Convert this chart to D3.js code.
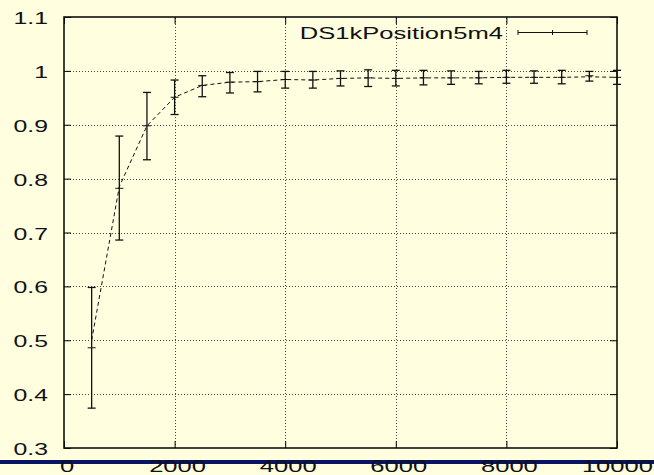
<!DOCTYPE html>
<html>
<head>
<meta charset="utf-8">
<script src="https://cdn.jsdelivr.net/npm/d3@7"></script>
<style>
    body { margin: 0; background: #ffffe0; }
    svg { display: block; }
</style>
</head>
<body>
<div id="chart"></div>
<script>
// data
var xValues = [500, 1000, 1500, 2000, 2500, 3000, 3500, 4000, 4500, 5000,
               5500, 6000, 6500, 7000, 7500, 8000, 8500, 9000, 9500, 10000];
var meanValues = [0.486, 0.782, 0.898, 0.951, 0.973, 0.979, 0.980, 0.984, 0.983, 0.986,
                  0.987, 0.986, 0.987, 0.987, 0.987, 0.988, 0.988, 0.988, 0.991, 0.988];
var upperValues = [0.598, 0.879, 0.960, 0.983, 0.991, 0.997, 0.999, 0.999, 0.999, 1.000,
                   1.002, 1.001, 1.001, 1.000, 0.999, 1.001, 1.000, 1.001, 0.999, 1.001];
var lowerValues = [0.374, 0.686, 0.835, 0.919, 0.952, 0.959, 0.961, 0.968, 0.968, 0.972,
                   0.971, 0.972, 0.974, 0.975, 0.976, 0.977, 0.977, 0.976, 0.981, 0.975];
// dashed line (starts a bit above the first marker)
var lineValues = [0.500, 0.785, 0.898, 0.951, 0.973, 0.979, 0.980, 0.984, 0.983, 0.986,
                  0.987, 0.986, 0.987, 0.987, 0.987, 0.988, 0.988, 0.988, 0.989, 0.988];
var xTicks = [0, 2000, 4000, 6000, 8000, 10000];
var xTickLabels = ["0", "2000", "4000", "6000", "8000", "10000"];
var yTicks = [0.3, 0.4, 0.5, 0.6, 0.7, 0.8, 0.9, 1.0, 1.1];
var yTickLabels = ["0.3", "0.4", "0.5", "0.6", "0.7", "0.8", "0.9", "1", "1.1"];
var seriesName = "DS1kPosition5m4";

var W = 654, H = 475;
var margin = {top: 17, right: 37, bottom: 27, left: 64};
var stretch = 1.55;   // text in the picture is wide

var svg = d3.select("#chart").append("svg")
    .attr("width", W)
    .attr("height", H)
    .style("background", "#ffffe0");

var xScale = d3.scaleLinear().domain([0, 10000]).range([margin.left, W - margin.right]);
var yScale = d3.scaleLinear().domain([0.3, 1.1]).range([H - margin.bottom, margin.top]);

var x0 = xScale.range()[0], x1 = xScale.range()[1];
var y0 = yScale.range()[0], y1 = yScale.range()[1];

// grid
var grid = svg.append("g")
    .attr("stroke", "#444")
    .attr("stroke-width", 1)
    .attr("stroke-dasharray", "1,2");
grid.selectAll("line.gy")
    .data(yTicks.slice(1, -1))
    .enter().append("line")
    .attr("x1", x0).attr("x2", x1)
    .attr("y1", function (d) { return Math.round(yScale(d)) + 0.5; })
    .attr("y2", function (d) { return Math.round(yScale(d)) + 0.5; });
grid.selectAll("line.gx")
    .data(xTicks.slice(1, -1))
    .enter().append("line")
    .attr("y1", y0).attr("y2", y1)
    .attr("x1", function (d) { return Math.round(xScale(d)) + 0.5; })
    .attr("x2", function (d) { return Math.round(xScale(d)) + 0.5; });

// inward ticks on all four sides
svg.append("g").attr("transform", "translate(" + x0 + ",0)")
    .call(d3.axisRight(yScale).tickValues(yTicks).tickSize(7).tickFormat(""))
    .call(function (g) { g.select(".domain").remove(); });
svg.append("g").attr("transform", "translate(" + x1 + ",0)")
    .call(d3.axisLeft(yScale).tickValues(yTicks).tickSize(7).tickFormat(""))
    .call(function (g) { g.select(".domain").remove(); });
svg.append("g").attr("transform", "translate(0," + y0 + ")")
    .call(d3.axisTop(xScale).tickValues(xTicks).tickSize(7).tickFormat(""))
    .call(function (g) { g.select(".domain").remove(); });
svg.append("g").attr("transform", "translate(0," + y1 + ")")
    .call(d3.axisBottom(xScale).tickValues(xTicks).tickSize(7).tickFormat(""))
    .call(function (g) { g.select(".domain").remove(); });

// border
svg.append("rect")
    .attr("x", x0).attr("y", y1)
    .attr("width", x1 - x0).attr("height", y0 - y1)
    .attr("fill", "none")
    .attr("stroke", "#111")
    .attr("stroke-width", 1.6);

// dashed line
var line = d3.line()
    .x(function (d, i) { return xScale(xValues[i]); })
    .y(function (d) { return yScale(d); });
svg.append("path")
    .datum(lineValues)
    .attr("d", line)
    .attr("fill", "none")
    .attr("stroke", "#111")
    .attr("stroke-width", 1)
    .attr("stroke-dasharray", "4,3");

// error bars
var cap = 4;
var bars = svg.append("g")
    .attr("stroke", "#111")
    .attr("stroke-width", 1.3)
    .selectAll("g")
    .data(xValues)
    .enter().append("g");
bars.append("line")
    .attr("x1", function (d) { return xScale(d); })
    .attr("x2", function (d) { return xScale(d); })
    .attr("y1", function (d, i) { return yScale(upperValues[i]); })
    .attr("y2", function (d, i) { return yScale(lowerValues[i]); });
bars.append("line")
    .attr("x1", function (d) { return xScale(d) - cap; })
    .attr("x2", function (d) { return xScale(d) + cap; })
    .attr("y1", function (d, i) { return yScale(upperValues[i]); })
    .attr("y2", function (d, i) { return yScale(upperValues[i]); });
bars.append("line")
    .attr("x1", function (d) { return xScale(d) - cap; })
    .attr("x2", function (d) { return xScale(d) + cap; })
    .attr("y1", function (d, i) { return yScale(lowerValues[i]); })
    .attr("y2", function (d, i) { return yScale(lowerValues[i]); });
bars.append("line")
    .attr("stroke-width", 1)
    .attr("x1", function (d) { return xScale(d) - cap; })
    .attr("x2", function (d) { return xScale(d) + cap; })
    .attr("y1", function (d, i) { return yScale(meanValues[i]); })
    .attr("y2", function (d, i) { return yScale(meanValues[i]); });

// legend
var legend = svg.append("g");
legend.append("text")
    .attr("transform", "translate(503,39) scale(" + stretch + ",1)")
    .attr("text-anchor", "end")
    .attr("font-family", "Liberation Sans, Arial, sans-serif")
    .attr("font-size", 16.5)
    .attr("fill", "#111")
    .text(seriesName);
var lg = legend.append("g").attr("stroke", "#111").attr("stroke-width", 1);
lg.append("line").attr("x1", 518).attr("x2", 587).attr("y1", 32.5).attr("y2", 32.5);
lg.append("line").attr("x1", 518).attr("x2", 518).attr("y1", 30).attr("y2", 35);
lg.append("line").attr("x1", 587).attr("x2", 587).attr("y1", 30).attr("y2", 35);
lg.append("line").attr("x1", 552.5).attr("x2", 552.5).attr("y1", 30).attr("y2", 35);

// blue bar along the bottom
svg.append("rect")
    .attr("x", 0).attr("y", 460)
    .attr("width", W).attr("height", 4)
    .attr("fill", "#0a1464");

// tick labels
svg.append("g").selectAll("text")
    .data(yTicks)
    .enter().append("text")
    .attr("transform", function (d) {
        return "translate(48," + (yScale(d) + 7) + ") scale(" + stretch + ",1)";
    })
    .attr("text-anchor", "end")
    .attr("font-family", "Liberation Sans, Arial, sans-serif")
    .attr("font-size", 16)
    .attr("fill", "#111")
    .text(function (d, i) { return yTickLabels[i]; });

svg.append("g").selectAll("text")
    .data(xTicks)
    .enter().append("text")
    .attr("transform", function (d, i) {
        // last label pushed in so it stays inside the page
        var tx = i === xTicks.length - 1 ? W - 1 : xScale(d) + 3;
        return "translate(" + tx + ",472) scale(" + stretch + ",1)";
    })
    .attr("text-anchor", function (d, i) { return i === xTicks.length - 1 ? "end" : "middle"; })
    .attr("font-family", "Liberation Sans, Arial, sans-serif")
    .attr("font-size", 16.5)
    .attr("fill", "#111")
    .text(function (d, i) { return xTickLabels[i]; });
</script>
</body>
</html>
